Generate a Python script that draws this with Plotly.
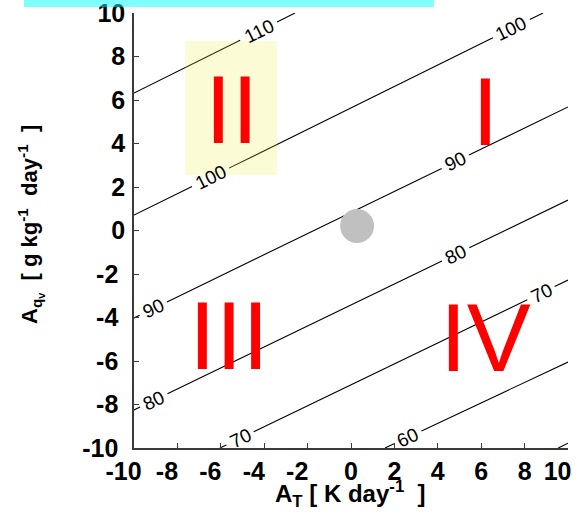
import numpy as np
import plotly.graph_objects as go

# ---- data ----
levels = [50, 60, 70, 80, 90, 100, 110]
line_x0 = [9.55, 1.57, -6.04, -10.0, -10.0, -10.0, -10.0]
line_y0 = [-10.0, -10.0, -10.0, -8.25, -4.02, 0.71, 6.32]
line_x1 = [10.0, 10.0, 10.0, 10.0, 10.0, 8.85, -2.58]
line_y1 = [-9.78, -6.05, -2.28, 1.40, 5.68, 10.0, 10.0]

label_level = [110, 100, 100, 90, 90, 80, 80, 70, 70, 60]
label_x = [-4.19, 7.42, -6.41, 4.88, -9.03, 4.88, -9.03, 8.80, -5.12, 2.63]
label_y = [9.03, 9.22, 2.32, 3.01, -3.75, -1.22, -7.93, -2.97, -9.54, -9.54]

quad_names = ["I", "II", "III", "IV"]
quad_x = [6.22, -5.53, -5.60, 6.22]
quad_y = [5.47, 5.56, -4.85, -4.94]

point_x = [0.28]
point_y = [0.21]

region_x = [-7.65, -3.41]
region_y = [2.55, 8.71]

ticks = [-10, -8, -6, -4, -2, 0, 2, 4, 6, 8, 10]
nb = "\u00a0"
# the reference's tick labels sit off-centre for negative values (and the last x label)
xtick_text = [str(t) + (nb * 3 if t < 0 or t == 10 else "") for t in ticks]
ytick_text = [str(t) + (nb if t < 0 else "") for t in ticks]

FONT = "Liberation Sans, Arial, sans-serif"

fig = go.Figure()

# contour lines with gaps for labels
lab_ann = []
for lev, x0, y0, x1, y1 in zip(levels, line_x0, line_y0, line_x1, line_y1):
    p0 = np.array([x0, y0]); d = np.array([x1 - x0, y1 - y0])
    L = np.hypot(*d)
    gaps = []
    for ll, lx, ly in zip(label_level, label_x, label_y):
        if ll != lev:
            continue
        t = float(np.dot(np.array([lx, ly]) - p0, d) / (L * L))
        half = (0.95 if len(str(ll)) == 3 else 0.7) / L
        gaps.append((t - half, t + half))
        pos = p0 + t * d
        ang = np.degrees(np.arctan2(d[1], d[0]))
        lab_ann.append(dict(x=pos[0], y=pos[1], text=str(ll), showarrow=False,
                            textangle=-ang, font=dict(family=FONT, size=19, color="black"),
                            xanchor="center", yanchor="middle"))
    gaps.sort()
    segs = []
    cur = 0.0
    for a, b in gaps:
        if a > cur:
            segs.append((cur, a))
        cur = max(cur, b)
    if cur < 1:
        segs.append((cur, 1.0))
    xs, ys = [], []
    for a, b in segs:
        xs += [x0 + a * d[0], x0 + b * d[0], None]
        ys += [y0 + a * d[1], y0 + b * d[1], None]
    fig.add_trace(go.Scatter(x=xs, y=ys, mode="lines", line=dict(color="black", width=1.1),
                             hoverinfo="skip", showlegend=False))

fig.add_trace(go.Scatter(x=point_x, y=point_y, mode="markers",
                         marker=dict(size=34, color="#c0c0c0", line=dict(width=0)),
                         showlegend=False))

shapes = [
    dict(type="rect", xref="x", yref="y", x0=region_x[0], x1=region_x[1],
         y0=region_y[0], y1=region_y[1], fillcolor="rgba(235,235,50,0.2)",
         line=dict(width=0), layer="above"),
    dict(type="rect", xref="paper", yref="paper", x0=-0.2535, x1=0.6912,
         y0=1.0138, y1=1.06, fillcolor="rgba(0,255,255,0.5)", line=dict(width=0),
         layer="above"),
]

ann = list(lab_ann)
for n, qx, qy in zip(quad_names, quad_x, quad_y):
    ann.append(dict(x=qx, y=qy, text=n, showarrow=False, xanchor="center", yanchor="middle",
                    font=dict(family=FONT, size=96, color="red")))

ann.append(dict(xref="paper", yref="paper", x=(350 - 134) / 434, y=(448 - 494) / 435,
                text="A<sub>T</sub>" + nb + "[ K day<sup>-1</sup>" + nb + nb + "]",
                showarrow=False, xanchor="center", yanchor="middle",
                font=dict(family=FONT, size=24, weight="bold", color="black")))
ann.append(dict(xref="paper", yref="paper", x=(30 - 134) / 434, y=(448 - 225) / 435,
                text="A<sub>q<sub>v</sub></sub>" + nb + nb + "[ g kg<sup>-1</sup>" + nb + nb + "day<sup>-1</sup>" + nb + nb + "]",
                showarrow=False, xanchor="center", yanchor="middle", textangle=-90,
                font=dict(family=FONT, size=22, weight="bold", color="black")))

axis_common = dict(range=[-10, 10], showgrid=False, zeroline=False, showline=True,
                   linecolor="#3a3a3a", linewidth=1.5, mirror=False, ticks="inside",
                   ticklen=5, tickwidth=1, tickcolor="#3a3a3a", tickvals=ticks,
                   automargin=False, ticklabeloverflow="allow", tickangle=0,
                   tickfont=dict(family=FONT, size=25, weight="bold", color="black"))

fig.update_layout(
    width=586, height=522, margin=dict(l=134, r=18, t=13, b=74, pad=0),
    paper_bgcolor="white", plot_bgcolor="white",
    xaxis=dict(**axis_common, ticktext=xtick_text, ticklabelstandoff=0),
    yaxis=dict(**axis_common, ticktext=ytick_text, ticklabelstandoff=2),
    shapes=shapes, annotations=ann, showlegend=False,
)

fig.write_html("out.html")
